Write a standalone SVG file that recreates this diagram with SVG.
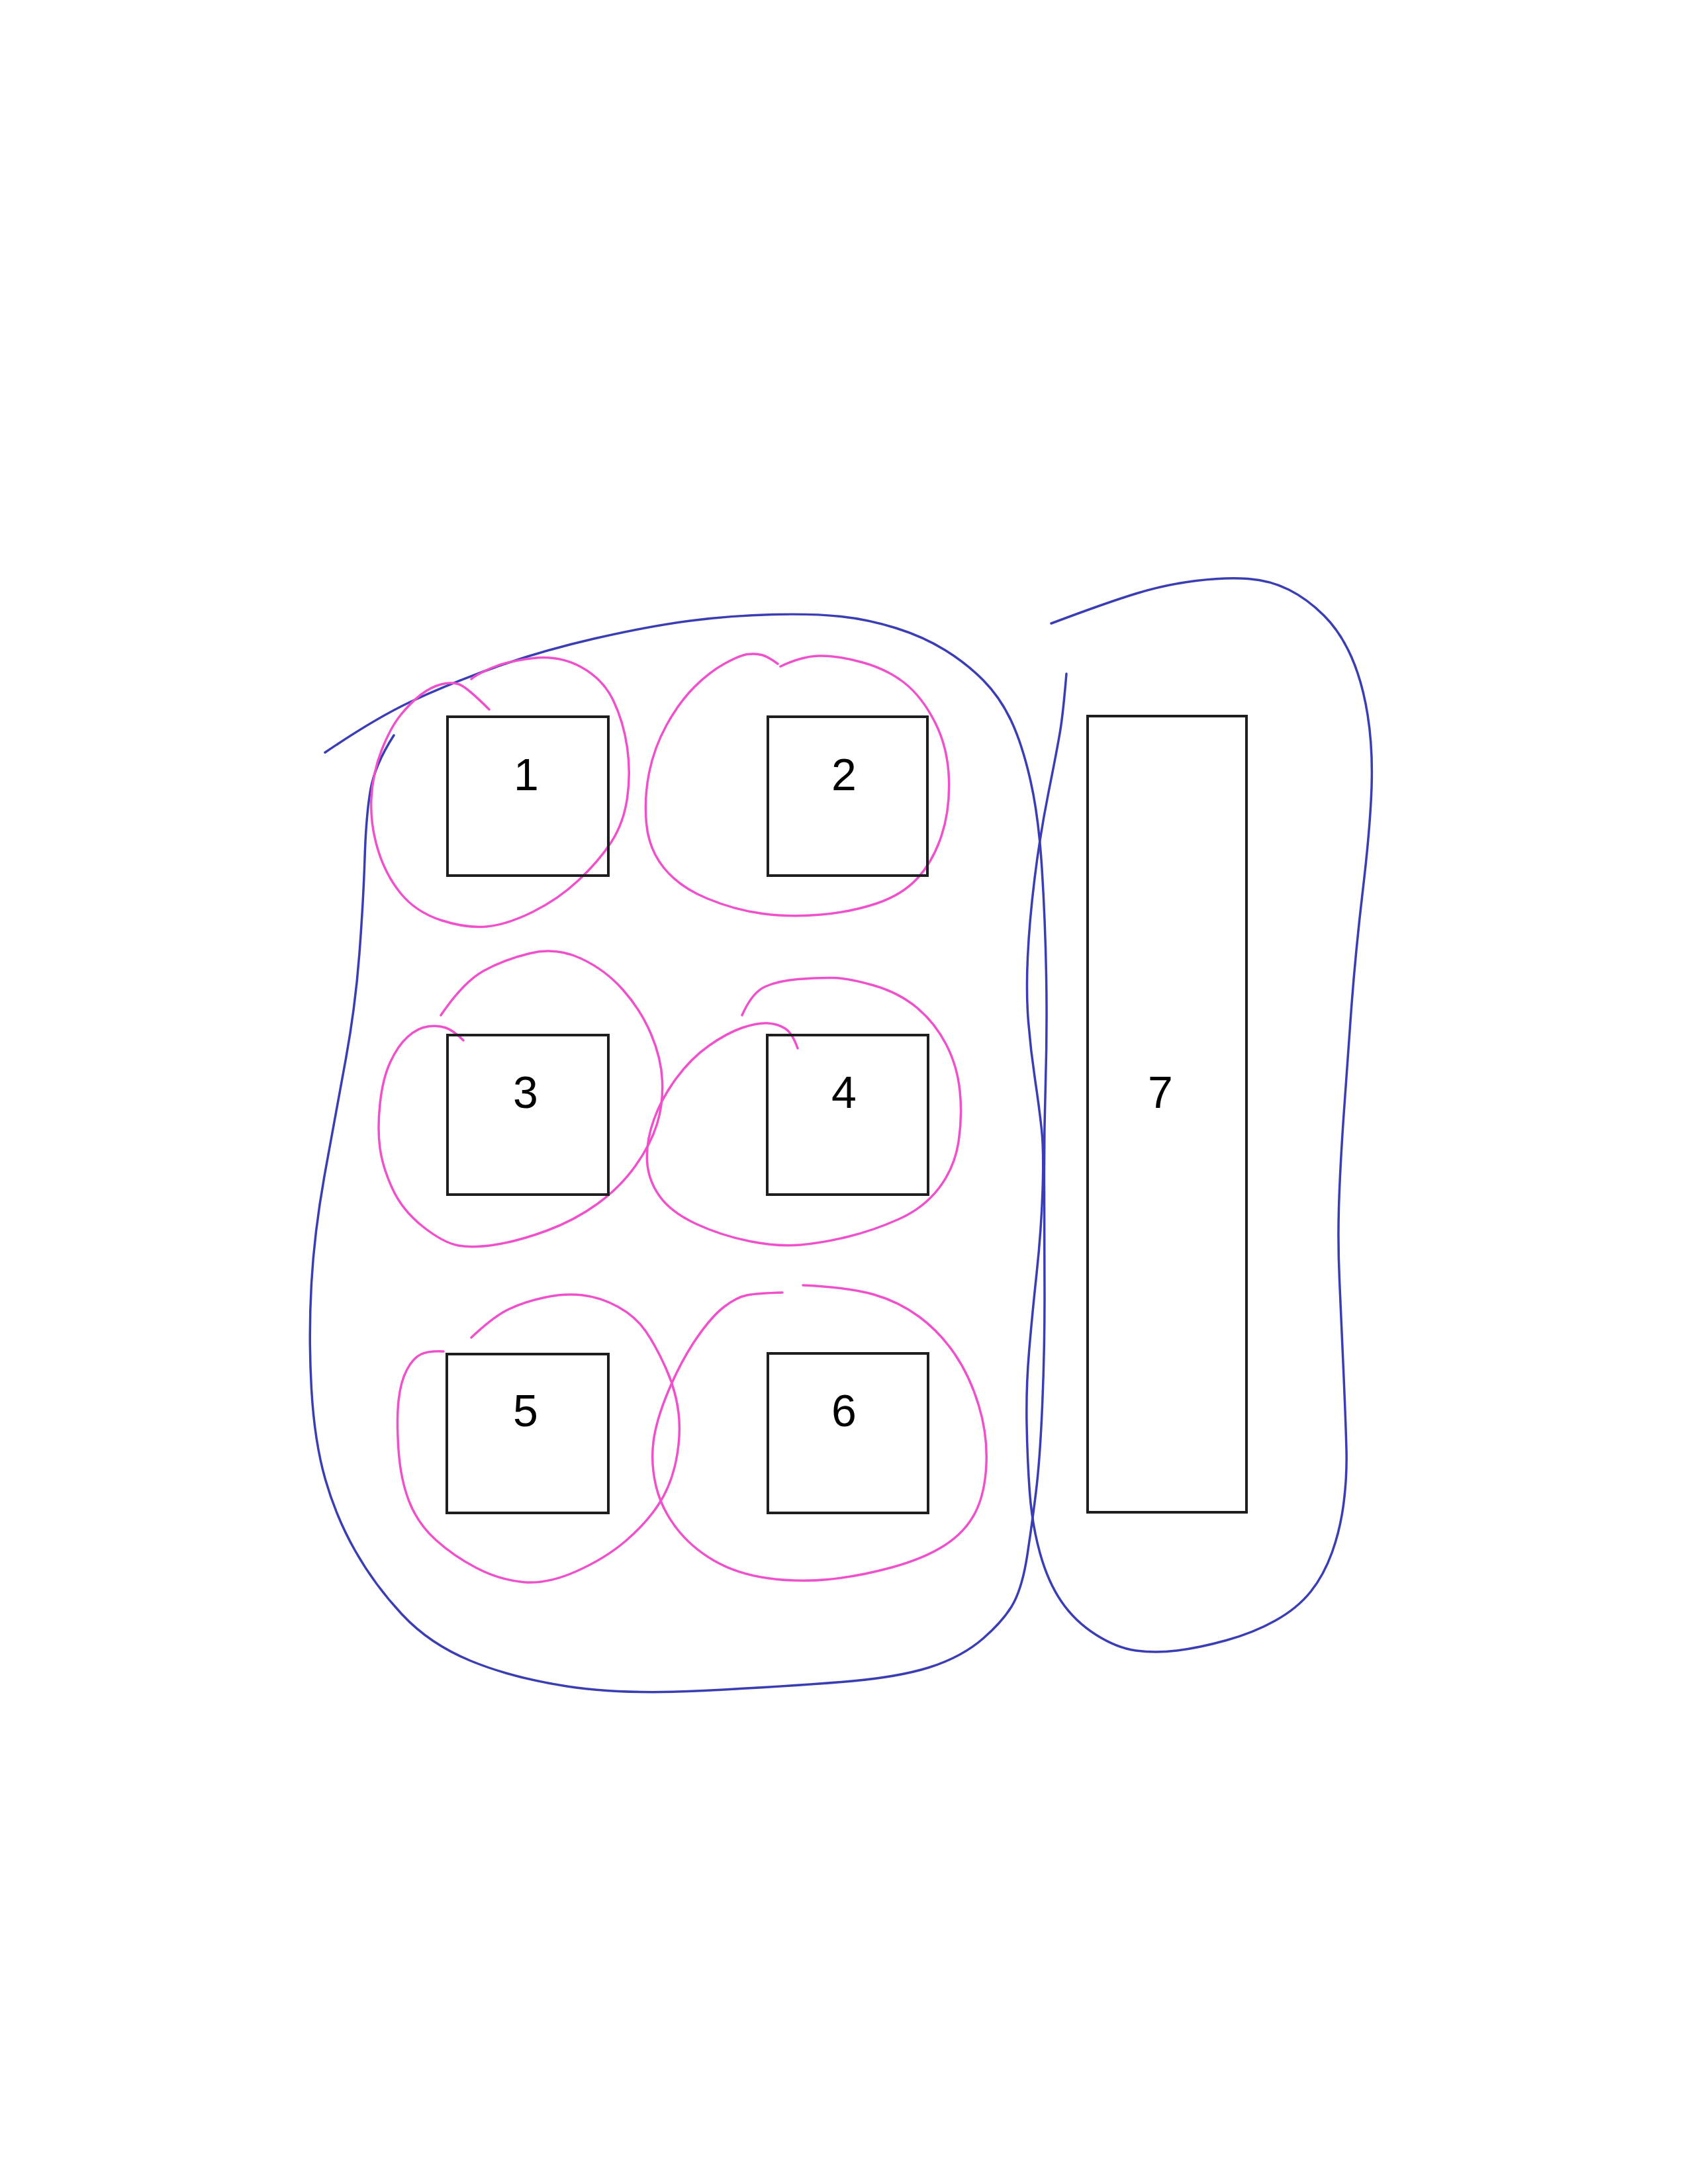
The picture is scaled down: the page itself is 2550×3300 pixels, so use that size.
<svg xmlns="http://www.w3.org/2000/svg" width="2550" height="3300" viewBox="0 0 2550 3300">
<style>
.box{fill:none;stroke:#1e1e1e;stroke-width:4}
.lbl{font-family:"Liberation Sans",Arial,sans-serif;font-size:68px;fill:#000;text-anchor:middle}
.blue{fill:none;stroke:#3a3db4;stroke-width:3.5;stroke-linecap:round;stroke-linejoin:round}
.pink{fill:none;stroke:#f050cc;stroke-width:3.5;stroke-linecap:round;stroke-linejoin:round}
</style>
<rect width="2550" height="3300" fill="#ffffff"/>
<g id="groups">
<path id="blob-left" class="blue" d="M 491,1137 Q 566,1086 620,1060.5 Q 674,1035 744.5,1009.5 Q 815,984 897.5,965 Q 980,946 1042.5,938 Q 1105,930 1167,928.5 Q 1229,927 1270.5,931.5 Q 1312,936 1353.5,949 Q 1395,962 1428,982.5 Q 1461,1003 1486,1028.5 Q 1511,1054 1527.5,1089 Q 1544,1124 1556.5,1178.5 Q 1569,1233 1574,1312.5 Q 1579,1392 1580.5,1473.5 Q 1582,1555 1579.5,1636.5 Q 1577,1718 1577.5,1799 Q 1578,1880 1578,1961.5 Q 1578,2043 1574.5,2124.5 Q 1571,2206 1565,2254.5 Q 1559,2303 1552,2349 Q 1545,2395 1532,2420.5 Q 1519,2446 1486,2475 Q 1453,2504 1403.5,2519.5 Q 1354,2535 1271,2541.5 Q 1188,2548 1064,2554.5 Q 940,2561 856.5,2548 Q 773,2535 711,2509.5 Q 649,2484 607.5,2439.5 Q 566,2395 537,2344 Q 508,2293 491.5,2235.5 Q 475,2178 470.5,2098.5 Q 466,2019 470.5,1939 Q 475,1859 491.5,1769 Q 508,1679 522.5,1599.5 Q 537,1520 543,1440 Q 549,1360 551,1296.5 Q 553,1233 559.5,1194.5 Q 566,1156 595,1111"/>
<path id="blob-right" class="blue" d="M 1588,942 Q 1673,910 1717.5,896.5 Q 1762,883 1807,877.5 Q 1852,872 1885.5,874.5 Q 1919,877 1947,891 Q 1975,905 2000,930 Q 2025,955 2041.5,992.5 Q 2058,1030 2066,1080 Q 2074,1130 2072,1190 Q 2070,1250 2059,1343 Q 2048,1436 2041.5,1522.5 Q 2035,1609 2029.5,1690.5 Q 2024,1772 2022.5,1826 Q 2021,1880 2023.5,1934.5 Q 2026,1989 2029.5,2070 Q 2033,2151 2034,2190.5 Q 2035,2230 2030,2270 Q 2025,2310 2012.5,2345 Q 2000,2380 1980,2405 Q 1960,2430 1927,2448.5 Q 1894,2467 1852.5,2478.5 Q 1811,2490 1778,2494 Q 1745,2498 1716,2494 Q 1687,2490 1655.5,2470 Q 1624,2450 1603.5,2420 Q 1583,2390 1571,2346.5 Q 1559,2303 1555.5,2254.5 Q 1552,2206 1551,2151.5 Q 1550,2097 1554.5,2043 Q 1559,1989 1566,1924 Q 1573,1859 1575,1799 Q 1577,1739 1573.5,1706.5 Q 1570,1674 1563.5,1630.5 Q 1557,1587 1553.5,1544 Q 1550,1501 1552.5,1446.5 Q 1555,1392 1563,1327 Q 1571,1262 1584,1197 Q 1597,1132 1601.5,1105 Q 1606,1078 1611,1018"/>
<path id="loop-1" class="pink" d="M 739,1072 Q 705,1038 693.5,1034 Q 682,1030 666.5,1034 Q 651,1038 636,1049.5 Q 621,1061 605.5,1080 Q 590,1099 576.5,1133.5 Q 563,1168 561,1206 Q 559,1244 570.5,1282.5 Q 582,1321 605,1349.5 Q 628,1378 666.5,1390.5 Q 705,1403 735.5,1400 Q 766,1397 804.5,1378 Q 843,1359 873.5,1330.5 Q 904,1302 923,1273 Q 942,1244 947.5,1206 Q 953,1168 947.5,1129.5 Q 942,1091 926.5,1058.5 Q 911,1026 878,1008 Q 845,990 805.5,994.5 Q 766,999 743,1009 Q 720,1019 712,1026"/>
<path id="loop-2" class="pink" d="M 1175,1003 Q 1160,992 1150.5,989.5 Q 1141,987 1129.5,988.5 Q 1118,990 1095,1002.5 Q 1072,1015 1049,1038 Q 1026,1061 1007,1095.5 Q 988,1130 980.5,1168 Q 973,1206 976.5,1244.5 Q 980,1283 1003,1311.5 Q 1026,1340 1068,1357.5 Q 1110,1375 1152,1380.5 Q 1194,1386 1240,1382 Q 1286,1378 1324.5,1365 Q 1363,1352 1386,1327 Q 1409,1302 1422,1263.5 Q 1435,1225 1433.5,1177.5 Q 1432,1130 1412.5,1091.5 Q 1393,1053 1366.5,1032 Q 1340,1011 1301.5,1000.5 Q 1263,990 1236.5,991 Q 1210,992 1179,1007"/>
<path id="loop-3" class="pink" d="M 700,1572 Q 685,1557 673.5,1553 Q 662,1549 646.5,1551 Q 631,1553 616,1566.5 Q 601,1580 589.5,1605 Q 578,1630 574,1668 Q 570,1706 574,1735 Q 578,1764 593,1796.5 Q 608,1829 639,1853.5 Q 670,1878 692.5,1882 Q 715,1886 749.5,1880.5 Q 784,1875 826,1859.5 Q 868,1844 902.5,1819 Q 937,1794 960,1761.5 Q 983,1729 992.5,1698.5 Q 1002,1668 1000.5,1633.5 Q 999,1599 983.5,1562.5 Q 968,1526 941,1495.5 Q 914,1465 877,1448 Q 840,1431 800.5,1440.5 Q 761,1450 730.5,1467 Q 700,1484 666,1534"/>
<path id="loop-4" class="pink" d="M 1205,1584 Q 1197,1561 1186,1554 Q 1175,1547 1159.5,1546 Q 1144,1545 1121,1553 Q 1098,1561 1071,1580 Q 1044,1599 1021.5,1629.5 Q 999,1660 987.5,1692.5 Q 976,1725 977.5,1754 Q 979,1783 996.5,1807.5 Q 1014,1832 1052,1849.5 Q 1090,1867 1132.5,1875.5 Q 1175,1884 1209,1881 Q 1243,1878 1281.5,1868.5 Q 1320,1859 1358,1842 Q 1396,1825 1419,1794.5 Q 1442,1764 1448,1725.5 Q 1454,1687 1450,1648.5 Q 1446,1610 1429,1577.5 Q 1412,1545 1385,1522.5 Q 1358,1500 1320,1489 Q 1282,1478 1259,1477.5 Q 1236,1477 1205.5,1479.5 Q 1175,1482 1155.5,1491 Q 1136,1500 1121,1534"/>
<path id="loop-5" class="pink" d="M 670,2042 Q 647,2041 635.5,2046.5 Q 624,2052 614.5,2070 Q 605,2088 602,2117 Q 599,2146 602,2190.5 Q 605,2235 618,2268.5 Q 631,2302 658,2326.5 Q 685,2351 719.5,2369 Q 754,2387 790,2390.5 Q 826,2394 870,2374.5 Q 914,2355 945,2328.5 Q 976,2302 995,2273 Q 1014,2244 1021.5,2206 Q 1029,2168 1025,2134.5 Q 1021,2101 1006,2067.5 Q 991,2034 975.5,2011.5 Q 960,1989 933.5,1974.5 Q 907,1960 880,1957 Q 853,1954 822.5,1960.5 Q 792,1967 769,1978 Q 746,1989 712,2021"/>
<path id="loop-6" class="pink" d="M 1182,1953 Q 1144,1954 1128.5,1957 Q 1113,1960 1094,1974.5 Q 1075,1989 1052,2022.5 Q 1029,2056 1010,2101 Q 991,2146 987,2179 Q 983,2212 991,2245.5 Q 999,2279 1021.5,2308.5 Q 1044,2338 1078.5,2358 Q 1113,2378 1159,2384.5 Q 1205,2391 1251,2386.5 Q 1297,2382 1346.5,2368.5 Q 1396,2355 1427,2335 Q 1458,2315 1473,2286 Q 1488,2257 1490,2212.5 Q 1492,2168 1478.5,2123.5 Q 1465,2079 1442,2045.5 Q 1419,2012 1388.5,1989.5 Q 1358,1967 1320,1956 Q 1282,1945 1213,1942"/>
</g>
<g id="node-1"><rect class="box" x="676" y="1083" width="243" height="240"/><text class="lbl" x="795" y="1194">1</text></g>
<g id="node-2"><rect class="box" x="1160" y="1083" width="241" height="240"/><text class="lbl" x="1275" y="1194">2</text></g>
<g id="node-3"><rect class="box" x="676" y="1564" width="243" height="241"/><text class="lbl" x="794" y="1674">3</text></g>
<g id="node-4"><rect class="box" x="1159" y="1564" width="243" height="241"/><text class="lbl" x="1275" y="1674">4</text></g>
<g id="node-5"><rect class="box" x="675" y="2046" width="244" height="240"/><text class="lbl" x="794" y="2155">5</text></g>
<g id="node-6"><rect class="box" x="1160" y="2045" width="242" height="241"/><text class="lbl" x="1275" y="2155">6</text></g>
<g id="node-7"><rect class="box" x="1643" y="1082" width="240" height="1203"/><text class="lbl" x="1753" y="1674">7</text></g>
</svg>
